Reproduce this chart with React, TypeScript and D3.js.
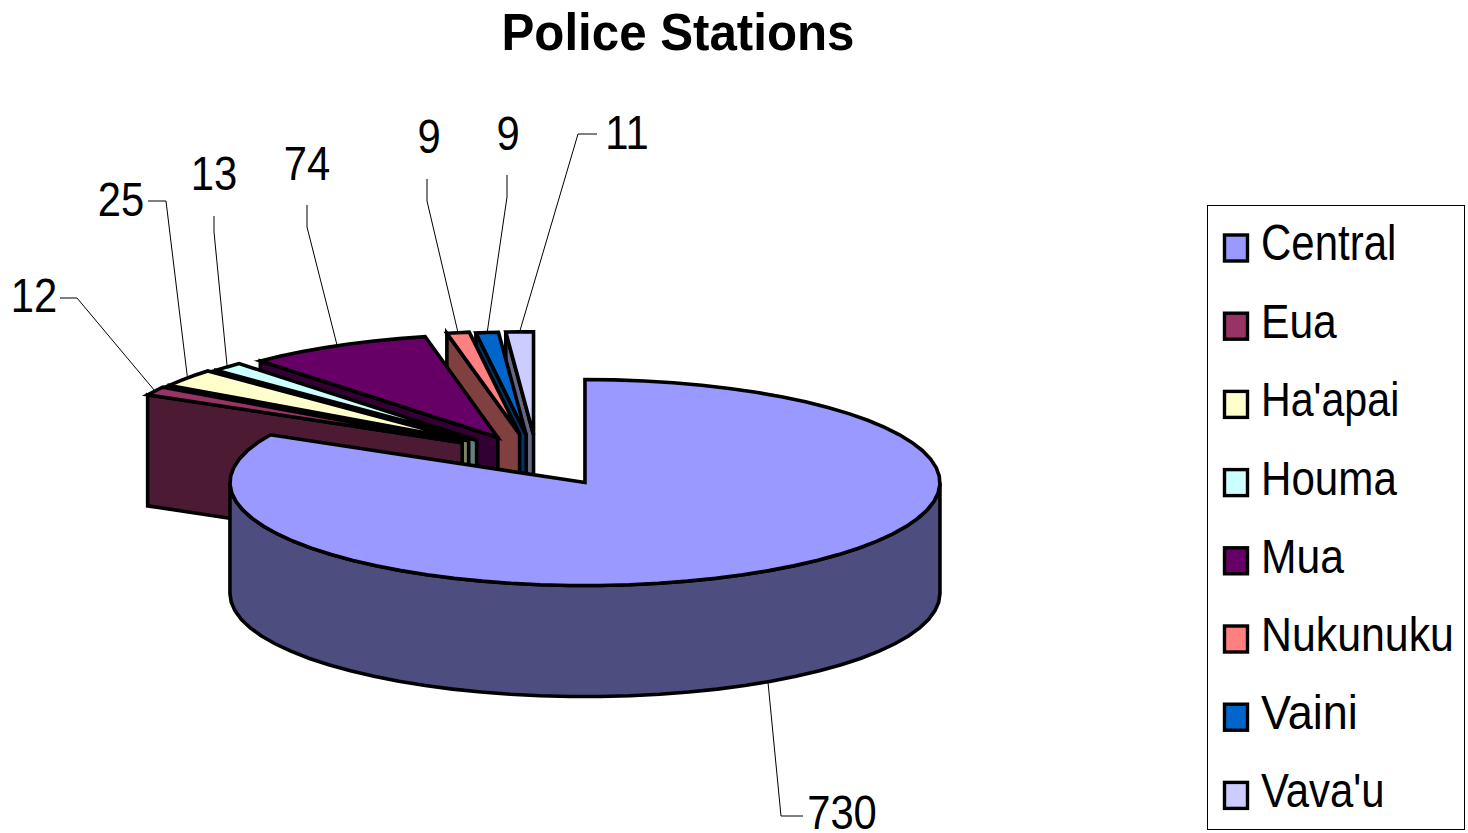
import React from "react";
import * as d3 from "d3";

const categories = ["Central", "Eua", "Ha'apai", "Houma", "Mua", "Nukunuku", "Vaini", "Vava'u"];
const stations = [730, 12, 25, 13, 74, 9, 9, 11];
const colors = ["#9999FF", "#993366", "#FFFFCC", "#CCFFFF", "#660066", "#FF8080", "#0066CC", "#CCCCFF"];
const titleText = "Police Stations";

// label placement: text centre, baseline, elbow of the leader
const labelX = [842, 34, 121, 214, 307, 429, 508, 627];
const labelY = [829, 312, 216, 190, 180, 153, 150, 149];
const leaderStart = [[803, 816], [60, 298], [148, 201], [214, 216], [307, 205], [427, 179], [507, 175], [597, 134]];
const leaderElbow = [[781, 816], [77, 298], [166, 201], [214, 232], [307, 227], [427, 201], [507, 197], [578, 134]];
const legendScale = [0.857, 0.87, 0.84, 0.86, 0.87, 0.875, 0.92, 0.855];
// small layout corrections of each exploded slice
const nudgeX = [0, 0, 0, 0, -1, -4, -3, -2];
const nudgeY = [0, -5, -4, -2, 0, -1, 0, 0];

const W = 1468, H = 833;
const CX = 539, CY = 460.5, RX = 355, RY = 103, DEPTH = 111, EXPLODE = 0.25;
const FRONT_LEADER_ANGLE = 2.6;
const FONT = "'Liberation Sans', Arial, sans-serif";

const line = d3.line<[number, number]>();

export default function App() {
  const pie = d3.pie<number>().sort(null).value((d) => d)(stations);
  const slices = pie.map((p, i) => {
    const mid = (p.startAngle + p.endAngle) / 2;
    const ax = CX + EXPLODE * RX * Math.sin(mid) + nudgeX[i];
    const ay = CY - EXPLODE * RY * Math.cos(mid) + nudgeY[i];
    const pt = (t: number, dz = 0): [number, number] => [ax + RX * Math.sin(t), ay - RY * Math.cos(t) + dz];
    const arc = (a: number, b: number, dz = 0): [number, number][] => {
      const n = Math.max(2, Math.ceil(Math.abs(b - a) / 0.085));
      return d3.range(n + 1).map((k) => pt(a + ((b - a) * k) / n, dz));
    };
    const top = line([[ax, ay], ...arc(p.startAngle, p.endAngle)])! + "Z";
    const a = Math.max(p.startAngle, Math.PI / 2);
    const b = Math.min(p.endAngle, (3 * Math.PI) / 2);
    const outer = b > a ? line([...arc(a, b), ...arc(b, a, DEPTH)])! + "Z" : null;
    const s = pt(p.startAngle);
    const edge = p.startAngle > Math.PI
      ? line([[ax, ay], s, [s[0], s[1] + DEPTH], [ax, ay + DEPTH]])! + "Z"
      : null;
    const c = d3.rgb(colors[i]);
    const wallColor = d3.rgb(c.r / 2, c.g / 2, c.b / 2).formatHex();
    const anchor = i === 0 ? pt(FRONT_LEADER_ANGLE, DEPTH) : pt(mid);
    return { i, top, outer, edge, wallColor, anchor };
  });
  const drawOrder = [...slices].reverse();

  return (
    <svg width={W} height={H} viewBox={`0 0 ${W} ${H}`} style={{ position: "absolute", left: 0, top: 0, background: "#fff" }}>
      <text x={678} y={50} textAnchor="middle" fontFamily={FONT} fontSize={52} fontWeight="bold"
        textLength={353} lengthAdjust="spacingAndGlyphs">{titleText}</text>

      {drawOrder.map((s) => (
        <g key={s.i} stroke="#000" strokeWidth={3.6} strokeLinejoin="miter">
          {s.edge && <path d={s.edge} fill={s.wallColor} />}
          {s.outer && <path d={s.outer} fill={s.wallColor} />}
          <path d={s.top} fill={colors[s.i]} />
        </g>
      ))}

      {slices.map((s) => (
        <polyline key={s.i} fill="none" stroke="#000" strokeWidth={1}
          points={[leaderStart[s.i], leaderElbow[s.i], s.anchor].map((p) => p.join(",")).join(" ")} />
      ))}
      {categories.map((c, i) => (
        <text key={c} x={labelX[i]} y={labelY[i]} textAnchor="middle" fontFamily={FONT} fontSize={48}
          transform={`translate(${labelX[i]},0) scale(0.87,1) translate(${-labelX[i]},0)`}>{stations[i]}</text>
      ))}

      <rect x={1207.5} y={205.5} width={257} height={624} fill="#fff" stroke="#000" strokeWidth={1} />
      {categories.map((c, i) => {
        const y = 248 + i * 78.2;
        return (
          <g key={c}>
            <rect x={1224.5} y={y - 13} width={23} height={26} fill={colors[i]} stroke="#000" strokeWidth={3.4} />
            <text x={1261} y={y + 12} fontFamily={FONT} fontSize={49}
              transform={`translate(1261,0) scale(${legendScale[i]},1) translate(-1261,0)`}>{c}</text>
          </g>
        );
      })}
    </svg>
  );
}
